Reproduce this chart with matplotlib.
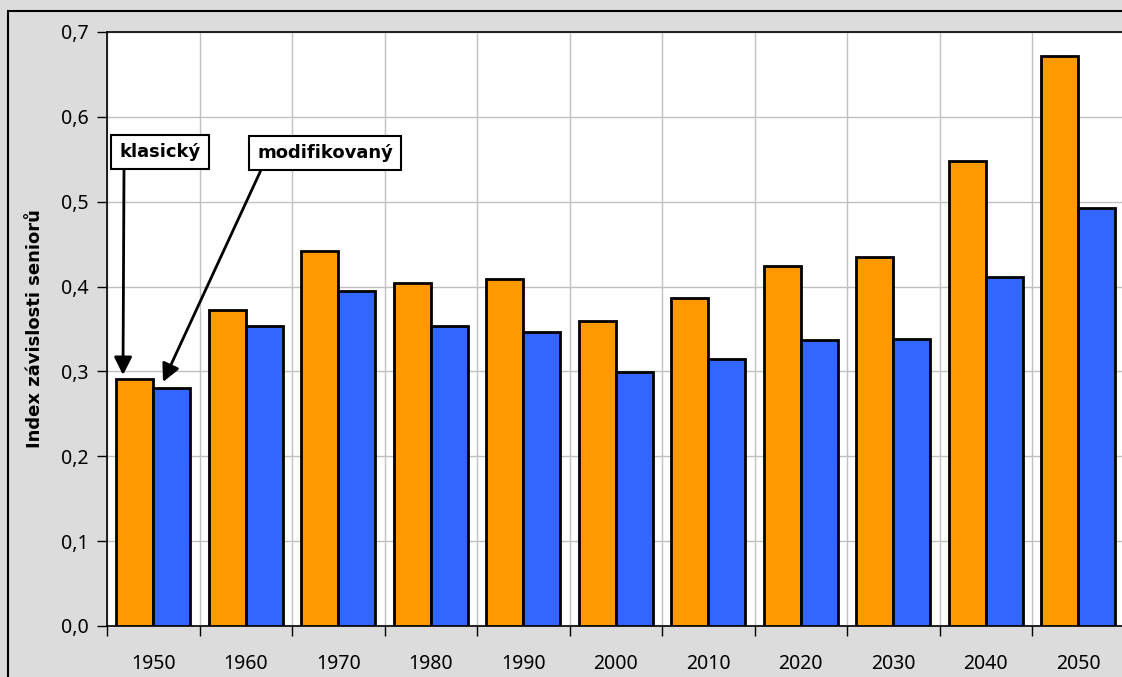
import matplotlib
matplotlib.use("Agg")
import matplotlib.pyplot as plt
from matplotlib.patches import Rectangle
import numpy as np

years = ["1950", "1960", "1970", "1980", "1990", "2000", "2010", "2020", "2030", "2040", "2050"]
klasicky = [0.291, 0.372, 0.442, 0.404, 0.409, 0.359, 0.386, 0.424, 0.435, 0.548, 0.672]
modifikovany = [0.280, 0.354, 0.395, 0.353, 0.346, 0.299, 0.315, 0.337, 0.338, 0.411, 0.493]
yticks = [0.0, 0.1, 0.2, 0.3, 0.4, 0.5, 0.6, 0.7]
ytick_labels = ["0,0", "0,1", "0,2", "0,3", "0,4", "0,5", "0,6", "0,7"]
ylabel = "Index závislosti seniorů"
label_k = "klasický"
label_m = "modifikovaný"

plt.rcParams['font.family'] = ['Noto Sans', 'DejaVu Sans']
BOLD = ['DejaVu Sans']

W, H = 1122, 677
fig = plt.figure(figsize=(W / 100, H / 100), dpi=100)
fig.patch.set_facecolor("#DCDCDC")

# figure border
fig.patches.append(Rectangle((8 / W, -0.05), 1.2, (H - 10.5) / H + 0.05,
                             transform=fig.transFigure, fill=False,
                             edgecolor="black", linewidth=1.5))

left, right, top, bottom = 107, 1124.5, 32, 626
ax = fig.add_axes([left / W, 1 - bottom / H, (right - left) / W, (bottom - top) / H])
ax.set_facecolor("white")

x = np.arange(len(years))
w = 0.4
ax.bar(x - w / 2, klasicky, width=w, color="#FF9900", edgecolor="black", linewidth=2, zorder=3)
ax.bar(x + w / 2, modifikovany, width=w, color="#3366FF", edgecolor="black", linewidth=2, zorder=3)

ax.set_xlim(-0.5, len(years) - 0.5)
ax.set_ylim(0, 0.7)
ax.set_yticks(yticks)
ax.set_yticklabels(ytick_labels, fontsize=14)
ax.set_xticks(x)
ax.set_xticklabels(years, fontsize=14)
ax.set_xticks(np.arange(len(years) + 1) - 0.5, minor=True)
ax.tick_params(axis='x', which='major', length=0, pad=20)
ax.tick_params(axis='x', which='minor', length=7, width=1, direction='out')
ax.tick_params(axis='y', which='major', length=7, width=1, direction='out', pad=6)
ax.grid(axis='y', which='major', color="#C0C0C0", linewidth=1, zorder=0)
ax.grid(axis='x', which='minor', color="#C0C0C0", linewidth=1, zorder=0)
ax.set_axisbelow(True)
for s in ax.spines.values():
    s.set_color("black")
    s.set_linewidth(1.2)

ax.set_ylabel(ylabel, fontsize=13, fontweight='bold', family=BOLD)
ax.yaxis.set_label_coords(-0.062, 0.5)

def px2data(px, py):
    return ((px - left) / 92.5 - 0.5, (bottom - py) / ((bottom - top) / 0.7))

bbox = dict(boxstyle="square,pad=0.45", facecolor="white", edgecolor="black", linewidth=1.5)
astyle = '-|>,head_length=0.6,head_width=0.3'
arrowprops = dict(arrowstyle=astyle, color='black', lw=2, mutation_scale=18,
                  shrinkA=0, shrinkB=0)

# arrows
ax.annotate("", xy=px2data(123, 375), xytext=px2data(124, 168), arrowprops=arrowprops, zorder=4)
ax.annotate("", xy=px2data(163, 382), xytext=px2data(261, 170), arrowprops=arrowprops, zorder=4)

# labels
ax.text(*px2data(160, 152), label_k, ha='center', va='center', fontsize=13,
        fontweight='bold', family=BOLD, bbox=bbox, zorder=5)
ax.text(*px2data(325, 153), label_m, ha='center', va='center', fontsize=13,
        fontweight='bold', family=BOLD, bbox=bbox, zorder=5)

fig.savefig("out.png", dpi=100, facecolor=fig.get_facecolor())
